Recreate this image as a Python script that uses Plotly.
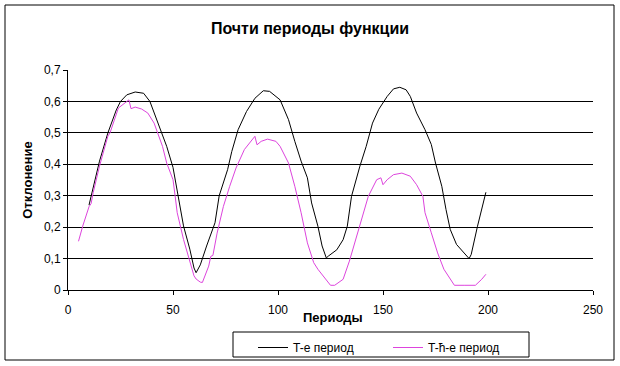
import plotly.graph_objects as go

# --- data ---
t_x = [10, 15, 19, 23, 25, 28, 32, 36, 39, 43, 47, 50, 52, 55, 58, 60, 61, 63, 66, 68, 70, 72,
       76, 78, 81, 85, 89, 93, 96, 101, 105, 108, 111, 114, 116, 119, 121, 123, 124, 128, 131,
       133, 135, 139, 142, 145, 148, 152, 155, 158, 161, 163, 166, 170, 173, 175, 178, 180, 182,
       185, 188, 191, 192, 195, 199]
t_y = [0.27, 0.41, 0.50, 0.573, 0.600, 0.621, 0.630, 0.626, 0.600, 0.531, 0.457, 0.39, 0.31,
       0.204, 0.13, 0.07, 0.055, 0.08, 0.14, 0.177, 0.214, 0.30, 0.383, 0.441, 0.51, 0.568, 0.61,
       0.634, 0.632, 0.605, 0.542, 0.473, 0.41, 0.357, 0.277, 0.203, 0.14, 0.102, 0.108, 0.128,
       0.16, 0.203, 0.298, 0.394, 0.457, 0.531, 0.575, 0.616, 0.640, 0.645, 0.637, 0.616, 0.563,
       0.51, 0.463, 0.404, 0.33, 0.256, 0.193, 0.145, 0.124, 0.10, 0.113, 0.203, 0.311]

th_x = [5, 7, 10, 11, 12, 15, 19, 20, 24, 28, 29, 30, 32, 35, 38, 41, 45, 47, 50, 51, 52, 55,
        58, 60, 61, 63, 64, 65, 67, 68, 69, 71, 74, 77, 80, 84, 88, 89, 90, 92, 95, 99, 101, 105,
        108, 111, 114, 117, 119, 123, 125, 127, 131, 134, 137, 140, 143, 147, 149, 150, 152, 155,
        159, 163, 166, 169, 170, 173, 176, 179, 182, 184, 189, 194, 197, 199]
th_y = [0.155, 0.203, 0.265, 0.275, 0.31, 0.394, 0.49, 0.50, 0.579, 0.600, 0.605, 0.577, 0.582,
        0.576, 0.563, 0.531, 0.457, 0.404, 0.351, 0.30, 0.246, 0.161, 0.087, 0.045, 0.035, 0.025,
        0.024, 0.04, 0.076, 0.107, 0.11, 0.181, 0.266, 0.33, 0.388, 0.447, 0.478, 0.489, 0.462,
        0.473, 0.48, 0.473, 0.457, 0.404, 0.33, 0.246, 0.15, 0.087, 0.066, 0.034, 0.015, 0.015,
        0.034, 0.092, 0.161, 0.235, 0.298, 0.351, 0.357, 0.335, 0.351, 0.367, 0.372, 0.362, 0.335,
        0.298, 0.246, 0.182, 0.118, 0.066, 0.034, 0.015, 0.015, 0.015, 0.034, 0.05]

series_names = ["T-e период", "T-ħ-e период"]
title_text = "Почти периоды функции"
x_title = "Периоды"
y_title = "Отклонение"
x_ticks = [0, 50, 100, 150, 200, 250]
y_ticks = [0, 0.1, 0.2, 0.3, 0.4, 0.5, 0.6, 0.7]

FONT = "Arial, Liberation Sans, sans-serif"

fig = go.Figure()
fig.add_trace(go.Scatter(x=t_x, y=t_y, mode="lines", name=series_names[0],
                         line=dict(color="#000000", width=1)))
fig.add_trace(go.Scatter(x=th_x, y=th_y, mode="lines", name=series_names[1],
                         line=dict(color="#DD44DD", width=1)))

L, R, T, B = 68, 27, 70, 76
W, H = 620, 366
pw, ph = W - L - R, H - T - B

def px_x(p):
    return (p - L) / pw

def px_y(p):
    return (H - B - p) / ph

fig.update_layout(
    width=W, height=H,
    margin=dict(l=L, r=R, t=T, b=B, autoexpand=False),
    paper_bgcolor="white", plot_bgcolor="white",
    separators=", ",
    font=dict(family=FONT, size=12, color="black"),
    title=dict(text="<b>" + title_text + "</b>", x=0.5, xanchor="center",
               y=1 - 28 / H, yanchor="middle", font=dict(size=16, family=FONT)),
    xaxis=dict(range=[0, 250], tickvals=x_ticks, showgrid=False, zeroline=False,
               showline=True, linecolor="black", linewidth=1,
               ticks="outside", ticklen=4, tickcolor="black",
               ticklabelstandoff=5, tickfont=dict(size=12)),
    yaxis=dict(range=[0, 0.7], tickvals=y_ticks, showgrid=True, gridcolor="black", gridwidth=1,
               zeroline=False, showline=True, linecolor="black", linewidth=1,
               ticks="outside", ticklen=4, tickcolor="black",
               tickfont=dict(size=12),
               title=dict(text="<b>" + y_title + "</b>", font=dict(size=13), standoff=8)),
    legend=dict(orientation="h", xref="container", yref="container",
                x=253 / W, xanchor="left", y=1 - 333 / H, yanchor="top",
                borderwidth=0, bgcolor="rgba(0,0,0,0)",
                font=dict(size=12), entrywidth=90, entrywidthmode="pixels"),
    showlegend=True,
    annotations=[dict(text="<b>" + x_title + "</b>", xref="paper", yref="paper",
                      x=px_x(333), y=px_y(317), xanchor="center", yanchor="middle",
                      showarrow=False, font=dict(size=13))],
    shapes=[
        dict(type="rect", xref="paper", yref="paper",
             x0=px_x(5), x1=px_x(614), y0=px_y(360), y1=px_y(5),
             line=dict(color="black", width=1), fillcolor="rgba(0,0,0,0)", layer="above"),
        dict(type="rect", xref="paper", yref="paper",
             x0=px_x(233), x1=px_x(529), y0=px_y(357), y1=px_y(332),
             line=dict(color="black", width=1), fillcolor="rgba(0,0,0,0)", layer="above"),
    ],
)

fig.write_html("out.html", config={"displayModeBar": False},
               post_script="document.body.style.margin='0';")
